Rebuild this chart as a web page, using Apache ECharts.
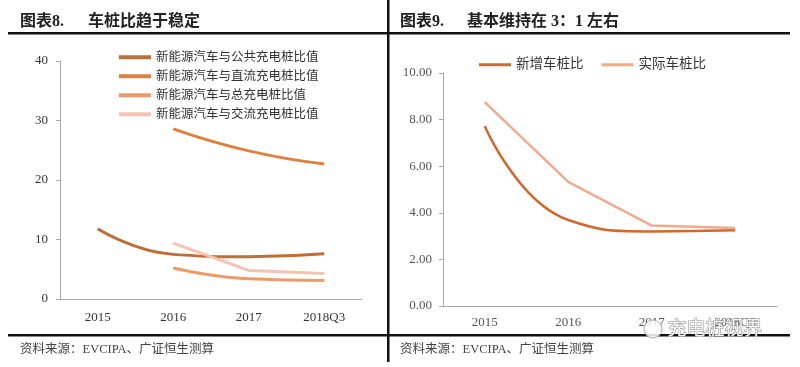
<!DOCTYPE html>
<html><head><meta charset="utf-8">
<script src="https://cdn.jsdelivr.net/npm/echarts@6/dist/echarts.min.js"></script>
<style>html,body{margin:0;padding:0;background:#fff}#c{width:800px;height:367px}</style>
</head><body><div id="c"></div>
<script>
var categories = ['2015', '2016', '2017', '2018Q3'];
var publicRatio = [11.8, 7.5, 7.1, 7.6];
var dcRatio = [null, 28.6, 24.9, 22.7];
var totalRatio = [null, 5.2, 3.4, 3.1];
var acRatio = [null, 9.4, 4.8, 4.3];
var newRatio = [7.73, 3.69, 3.2, 3.25];
var actualRatio = [8.75, 5.33, 3.45, 3.35];
var leftTicks = [0, 10, 20, 30, 40];
var rightTicks = [0, 2, 4, 6, 8, 10];

var serif = '"Liberation Serif", "Noto Sans CJK SC", serif';
var chart = echarts.init(document.getElementById('c'));
var axisLineStyle = {color: '#a8a8a8', width: 1};
chart.setOption({
  animation: false,
  backgroundColor: '#fff',
  grid: [
    {left: 60, top: 61, width: 302, height: 238},
    {left: 443, top: 73, width: 334, height: 233}
  ],
  legend: [
    {orient: 'vertical', left: 114, top: 46, itemGap: 6.5, itemWidth: 32, itemHeight: 4, icon: 'rect',
     textStyle: {fontFamily: serif, fontSize: 12.5, color: '#333'},
     data: ['新能源汽车与公共充电桩比值', '新能源汽车与直流充电桩比值', '新能源汽车与总充电桩比值', '新能源汽车与交流充电桩比值']},
    {orient: 'horizontal', left: 474, top: 53, itemGap: 18, itemWidth: 32, itemHeight: 3, icon: 'rect',
     textStyle: {fontFamily: serif, fontSize: 13.5, color: '#333'},
     data: ['新增车桩比', '实际车桩比']}
  ],
  xAxis: [
    {type: 'category', gridIndex: 0, data: categories, boundaryGap: true,
     axisLine: {lineStyle: axisLineStyle}, axisTick: {lineStyle: axisLineStyle, length: 5},
     axisLabel: {fontFamily: serif, fontSize: 13, color: '#333', margin: 12}},
    {type: 'category', gridIndex: 1, data: categories, boundaryGap: true,
     axisLine: {lineStyle: axisLineStyle}, axisTick: {lineStyle: axisLineStyle, length: 5},
     axisLabel: {fontFamily: serif, fontSize: 13, color: '#555', margin: 10}}
  ],
  yAxis: [
    {type: 'value', gridIndex: 0, min: leftTicks[0], max: leftTicks[leftTicks.length - 1], interval: 10,
     axisLine: {show: true, lineStyle: axisLineStyle}, axisTick: {show: true, lineStyle: axisLineStyle, length: 4},
     splitLine: {show: false},
     axisLabel: {fontFamily: serif, fontSize: 13, color: '#333', margin: 12}},
    {type: 'value', gridIndex: 1, min: rightTicks[0], max: rightTicks[rightTicks.length - 1], interval: 2,
     axisLine: {show: true, lineStyle: axisLineStyle}, axisTick: {show: true, lineStyle: axisLineStyle, length: 4},
     splitLine: {show: false},
     axisLabel: {fontFamily: serif, fontSize: 13, color: '#555', margin: 11, formatter: function (v) { return v.toFixed(2); }}}
  ],
  series: [
    {name: '新能源汽车与公共充电桩比值', type: 'line', xAxisIndex: 0, yAxisIndex: 0, data: publicRatio, smooth: true, symbol: 'none',
     lineStyle: {width: 3, color: '#BF6E37'}, itemStyle: {color: '#BF6E37'}},
    {name: '新能源汽车与直流充电桩比值', type: 'line', xAxisIndex: 0, yAxisIndex: 0, data: dcRatio, smooth: true, symbol: 'none',
     lineStyle: {width: 3, color: '#E0803E'}, itemStyle: {color: '#E0803E'}},
    {name: '新能源汽车与总充电桩比值', type: 'line', xAxisIndex: 0, yAxisIndex: 0, data: totalRatio, smooth: true, symbol: 'none',
     lineStyle: {width: 3, color: '#EE9A68'}, itemStyle: {color: '#EE9A68'}},
    {name: '新能源汽车与交流充电桩比值', type: 'line', xAxisIndex: 0, yAxisIndex: 0, data: acRatio, smooth: false, symbol: 'none',
     lineStyle: {width: 3, color: '#F6C3B0'}, itemStyle: {color: '#F6C3B0'}},
    {name: '新增车桩比', type: 'line', xAxisIndex: 1, yAxisIndex: 1, data: newRatio, smooth: true, symbol: 'none',
     lineStyle: {width: 2.5, color: '#D0692E'}, itemStyle: {color: '#D0692E'}},
    {name: '实际车桩比', type: 'line', xAxisIndex: 1, yAxisIndex: 1, data: actualRatio, smooth: false, symbol: 'none',
     lineStyle: {width: 2.5, color: '#F2AA8C'}, itemStyle: {color: '#F2AA8C'}}
  ],
  graphic: [
    {type: 'text', left: 20, top: 14, style: {text: '图表8.', font: 'bold 16px ' + serif, fill: '#222'}},
    {type: 'text', left: 88, top: 14, style: {text: '车桩比趋于稳定', font: 'bold 16px ' + serif, fill: '#222'}},
    {type: 'text', left: 400, top: 14, style: {text: '图表9.', font: 'bold 16px ' + serif, fill: '#222'}},
    {type: 'text', left: 467, top: 14, style: {text: '基本维持在 3：1 左右', font: 'bold 16px ' + serif, fill: '#222'}},
    {type: 'rect', shape: {x: 8, y: 32, width: 782, height: 2.5}, style: {fill: '#111'}},
    {type: 'rect', shape: {x: 387, y: 0, width: 2.5, height: 362}, style: {fill: '#111'}},
    {type: 'rect', shape: {x: 8, y: 334, width: 782, height: 2.5}, style: {fill: '#111'}},
    {type: 'text', left: 20, top: 343, style: {text: '资料来源：EVCIPA、广证恒生测算', font: '12.5px ' + serif, fill: '#444'}},
    {type: 'text', left: 400, top: 343, style: {text: '资料来源：EVCIPA、广证恒生测算', font: '12.5px ' + serif, fill: '#444'}},
    {type: 'circle', z: 100, shape: {cx: 653, cy: 329, r: 9}, style: {fill: 'rgba(255,255,255,0.85)', stroke: '#aaa', lineWidth: 1}},
    {type: 'text', z: 100, left: 667, top: 318, style: {text: '充电桩视界', font: '19px "Noto Sans CJK SC"', fill: 'rgba(255,255,255,0.9)', stroke: '#888', lineWidth: 1}}
  ]
});
</script></body></html>
